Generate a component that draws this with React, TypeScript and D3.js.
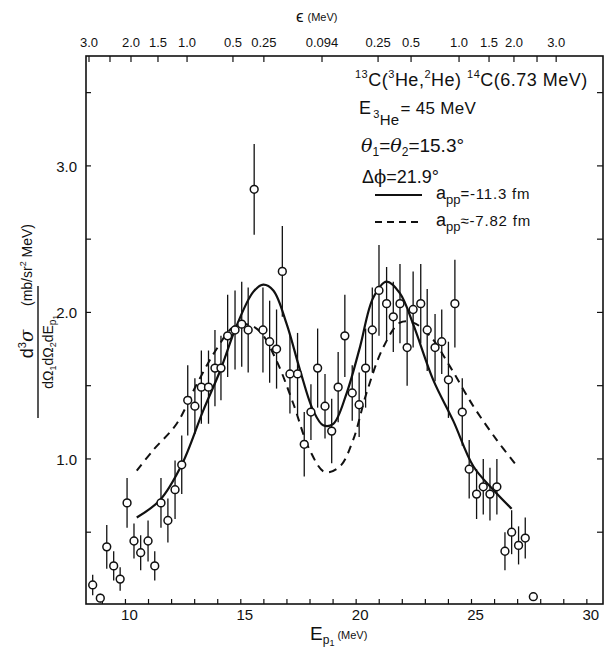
import React from "react";
import * as d3 from "d3";

// Measured data points: proton energy E_p1 (MeV), cross section, error
const energies = [
  8.58, 8.91, 9.19, 9.49, 9.77, 10.07, 10.37, 10.66, 10.98, 11.27,
  11.54, 11.84, 12.15, 12.44, 12.7, 13.01, 13.29, 13.6, 13.88, 14.14,
  14.43, 14.75, 15.04, 15.32, 15.58, 15.96, 16.25, 16.55, 16.8, 17.13,
  17.46, 17.75, 18.04, 18.33, 18.65, 18.94, 19.22, 19.51, 19.83, 20.13,
  20.41, 20.7, 20.99, 21.32, 21.61, 21.9, 22.21, 22.47, 22.8, 23.08,
  23.42, 23.71, 24.0, 24.28, 24.6, 24.9, 25.22, 25.51, 25.8, 26.1,
  26.45, 26.74, 27.04, 27.33, 27.68,
];
const crossSections = [
  0.14, 0.05, 0.4, 0.27, 0.18, 0.7, 0.44, 0.36, 0.44, 0.27,
  0.7, 0.58, 0.79, 0.96, 1.4, 1.36, 1.49, 1.49, 1.62, 1.62,
  1.84, 1.88, 1.92, 1.88, 2.84, 1.88, 1.8, 1.75, 2.28, 1.58,
  1.58, 1.1, 1.32, 1.62, 1.36, 1.19, 1.49, 1.84, 1.45, 1.37,
  1.62, 1.88, 2.15, 2.06, 1.97, 2.06, 1.76, 2.02, 2.06, 1.88,
  1.76, 1.8, 1.54, 2.06, 1.32, 0.93, 0.76, 0.81, 0.76, 0.81,
  0.37, 0.5, 0.41, 0.46, 0.06,
];
const errors = [
  0.07, 0.03, 0.15, 0.1, 0.08, 0.17, 0.12, 0.12, 0.14, 0.1,
  0.17, 0.15, 0.2, 0.2, 0.24, 0.19, 0.25, 0.25, 0.26, 0.22,
  0.28, 0.27, 0.29, 0.29, 0.31, 0.29, 0.28, 0.27, 0.31, 0.27,
  0.28, 0.22, 0.19, 0.27, 0.22, 0.22, 0.24, 0.28, 0.19, 0.22,
  0.27, 0.29, 0.31, 0.25, 0.24, 0.27, 0.26, 0.26, 0.27, 0.28,
  0.23, 0.22, 0.26, 0.3, 0.23, 0.2, 0.17, 0.19, 0.18, 0.19,
  0.13, 0.15, 0.13, 0.14, 0.03,
];

// Theory curve a_pp = -11.3 fm (solid)
const solidE = [10.49, 11.5, 12.44, 13.37, 14.1, 14.82, 15.54, 15.97, 16.41, 16.99, 17.56, 18.14, 18.57, 19.01, 19.59, 20.16, 20.74, 21.32, 21.9, 22.47, 23.34, 24.21, 25.08, 25.94, 26.74];
const solidV = [0.6, 0.72, 0.96, 1.33, 1.6, 1.91, 2.14, 2.19, 2.15, 1.92, 1.61, 1.33, 1.23, 1.24, 1.45, 1.76, 2.1, 2.21, 2.13, 1.92, 1.54, 1.26, 0.95, 0.79, 0.66];

// Theory curve a_pp = -7.82 fm (dashed)
const dashedE = [10.49, 11.2, 12.22, 13.09, 13.95, 14.67, 15.25, 15.83, 16.55, 17.27, 17.99, 18.65, 19.3, 19.87, 20.45, 21.17, 21.9, 22.47, 23.2, 24.07, 25.08, 26.09, 26.88];
const dashedV = [0.92, 1.06, 1.24, 1.51, 1.75, 1.9, 1.92, 1.87, 1.67, 1.38, 1.06, 0.91, 0.95, 1.13, 1.45, 1.76, 1.93, 1.93, 1.84, 1.63, 1.36, 1.13, 0.97];

const xTicks = [9, 10, 11, 12, 13, 14, 15, 16, 17, 18, 19, 20, 21, 22, 23, 24, 25, 26, 27, 28, 29, 30];
const xTickLabels = [10, 15, 20, 25, 30];
const yTicks = [0.5, 1.0, 1.5, 2.0, 2.5, 3.0, 3.5];
const yTickLabels = [1.0, 2.0, 3.0];
// Top axis: relative energy epsilon, positions in E_p1 units
const topTickE = [8.42, 9.33, 10.24, 11.41, 12.67, 14.66, 16.0, 18.52, 20.95, 22.38, 24.46, 25.76, 26.84, 27.84, 28.67];
const topTickLabels = ["3.0", "", "2.0", "1.5", "1.0", "0.5", "0.25", "0.094", "0.25", "0.5", "1.0", "1.5", "2.0", "", "3.0"];

const FONT = "'Liberation Sans', Arial, sans-serif";

export default function App() {
  const x = d3.scaleLinear().domain([8.29, 30.7]).range([86, 603]);
  const y = d3.scaleLinear().domain([0.01, 3.75]).range([604, 56]);
  const line = d3
    .line<[number, number]>()
    .x((d) => x(d[0]))
    .y((d) => y(d[1]))
    .curve(d3.curveCatmullRom.alpha(0.5));
  const solidPath = line(solidE.map((e, i) => [e, solidV[i]] as [number, number])) || "";
  const dashedPath = line(dashedE.map((e, i) => [e, dashedV[i]] as [number, number])) || "";
  const [x0, x1] = x.range();
  const [yb, yt] = y.range();
  const ink = "#111";
  const serif = "'DejaVu Serif', serif";

  return (
    <svg
      width={608}
      height={650}
      viewBox="0 0 608 650"
      style={{ position: "absolute", left: 0, top: 0, background: "#fff" }}
      fontFamily={FONT}
      fill={ink}
    >
      <rect x={0} y={0} width={608} height={650} fill="#fff" />
      {/* frame */}
      <rect x={x0} y={yt} width={x1 - x0} height={yb - yt} fill="none" stroke={ink} strokeWidth={1.6} />
      {/* bottom ticks */}
      {xTicks.map((t) => (
        <line key={"xb" + t} x1={x(t)} x2={x(t)} y1={yb} y2={yb - 5} stroke={ink} strokeWidth={1.2} />
      ))}
      {xTickLabels.map((t) => (
        <text key={"xl" + t} x={x(t) + 4} y={620} fontSize={15} textAnchor="middle">
          {t}
        </text>
      ))}
      {/* top ticks */}
      {topTickE.map((t, i) => (
        <line key={"xt" + i} x1={x(t)} x2={x(t)} y1={yt} y2={yt + 6} stroke={ink} strokeWidth={1.2} />
      ))}
      {topTickLabels.map((l, i) =>
        l ? (
          <text key={"tl" + i} x={x(topTickE[i])} y={47} fontSize={13} textAnchor="middle">
            {l}
          </text>
        ) : null
      )}
      {/* y ticks */}
      {yTicks.map((t) => (
        <g key={"yt" + t}>
          <line x1={x0} x2={x0 + 5} y1={y(t)} y2={y(t)} stroke={ink} strokeWidth={1.2} />
          <line x1={x1} x2={x1 - 6} y1={y(t)} y2={y(t)} stroke={ink} strokeWidth={1.2} />
        </g>
      ))}
      {yTickLabels.map((t) => (
        <text key={"yl" + t} x={77} y={y(t) + 6} fontSize={15} textAnchor="end">
          {t.toFixed(1)}
        </text>
      ))}

      {/* theory curves */}
      <path d={solidPath} fill="none" stroke={ink} strokeWidth={2.2} />
      <path d={dashedPath} fill="none" stroke={ink} strokeWidth={2} strokeDasharray="8,6" />

      {/* error bars and points */}
      {energies.map((e, i) => (
        <line
          key={"eb" + i}
          x1={x(e)}
          x2={x(e)}
          y1={y(crossSections[i] - errors[i])}
          y2={y(crossSections[i] + errors[i])}
          stroke={ink}
          strokeWidth={1.3}
        />
      ))}
      {energies.map((e, i) => (
        <circle key={"pt" + i} cx={x(e)} cy={y(crossSections[i])} r={3.9} fill="#fff" stroke={ink} strokeWidth={1.5} />
      ))}

      {/* top axis title */}
      <text x={296} y={22} fontSize={17}>
        ϵ<tspan fontSize={11} dx={4} dy={-1}>(MeV)</tspan>
      </text>
      {/* bottom axis title */}
      <text x={310} y={640} fontSize={19}>
        E<tspan fontSize={12} dy={4}>p</tspan>
        <tspan fontSize={9} dy={2}>1</tspan>
        <tspan fontSize={11} dy={-7} dx={3}>(MeV)</tspan>
      </text>

      {/* y axis title */}
      <g transform="translate(38,352) rotate(-90)">
        <text x={8} y={-5} fontSize={18} textAnchor="middle">
          d<tspan fontSize={11} dy={-7}>3</tspan>
          <tspan dy={7} fontFamily={serif} fontStyle="italic">σ</tspan>
        </text>
        <line x1={-66} x2={66} y1={0} y2={0} stroke={ink} strokeWidth={1.4} />
        <text x={0} y={15} fontSize={14} textAnchor="middle">
          dΩ<tspan fontSize={9} dy={3}>1</tspan>
          <tspan dy={-3}>dΩ</tspan>
          <tspan fontSize={9} dy={3}>2</tspan>
          <tspan dy={-3}>dE</tspan>
          <tspan fontSize={10} dy={3}>p</tspan>
          <tspan fontSize={8} dy={2}>1</tspan>
        </text>
        <text x={46} y={-6} fontSize={14}>
          (mb/sr<tspan fontSize={9} dy={-6}>2</tspan>
          <tspan dy={6}> MeV)</tspan>
        </text>
      </g>

      {/* annotations */}
      <text x={355} y={86} fontSize={18} letterSpacing={0.5}>
        <tspan fontSize={11} dy={-8}>13</tspan>
        <tspan dy={8}>C(</tspan>
        <tspan fontSize={11} dy={-8}>3</tspan>
        <tspan dy={8}>He,</tspan>
        <tspan fontSize={11} dy={-8}>2</tspan>
        <tspan dy={8}>He) </tspan>
        <tspan fontSize={11} dy={-8}>14</tspan>
        <tspan dy={8}>C(6.73 MeV)</tspan>
      </text>
      <text x={359} y={114} fontSize={18} letterSpacing={0.3}>
        E<tspan fontSize={11} dy={4} dx={2}>3</tspan>
        <tspan fontSize={15} dy={7}>He</tspan>
        <tspan fontSize={17} dy={-11} dx={1}>= 45 MeV</tspan>
      </text>
      <text x={361} y={152} fontSize={19}>
        <tspan fontFamily={serif} fontStyle="italic">θ</tspan>
        <tspan fontSize={12} dy={4}>1</tspan>
        <tspan dy={-4}>=</tspan>
        <tspan fontFamily={serif} fontStyle="italic">θ</tspan>
        <tspan fontSize={12} dy={4}>2</tspan>
        <tspan dy={-4}>=15.3°</tspan>
      </text>
      <text x={362} y={183} fontSize={18}>
        Δ<tspan fontFamily={serif}>ϕ</tspan>=21.9°
      </text>
      <line x1={375} x2={422} y1={195} y2={195} stroke={ink} strokeWidth={1.8} />
      <text x={436} y={199} fontSize={18}>
        a<tspan fontSize={13} dy={5}>pp</tspan>
        <tspan fontSize={15} dy={-5} letterSpacing={0.8}>=-11.3 fm</tspan>
      </text>
      <line x1={375} x2={422} y1={222} y2={222} stroke={ink} strokeWidth={1.8} strokeDasharray="7,5" />
      <text x={436} y={226} fontSize={18}>
        a<tspan fontSize={13} dy={5}>pp</tspan>
        <tspan fontSize={15} dy={-5} letterSpacing={0.8}>≈-7.82 fm</tspan>
      </text>
    </svg>
  );
}
